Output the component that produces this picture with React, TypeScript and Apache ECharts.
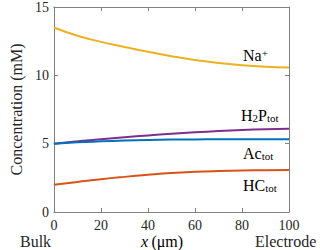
import React, { useEffect, useRef } from "react";
import * as echarts from "echarts";

const xPos = [0, 10, 20, 30, 40, 50, 60, 70, 80, 90, 100];
const naVals = [13.5, 12.9, 12.45, 12.08, 11.72, 11.4, 11.12, 10.9, 10.74, 10.63, 10.57];
const h2pVals = [5.0, 5.17, 5.33, 5.47, 5.6, 5.72, 5.83, 5.92, 6.0, 6.06, 6.1];
const acVals = [5.0, 5.1, 5.17, 5.23, 5.27, 5.3, 5.31, 5.32, 5.32, 5.32, 5.32];
const hcVals = [2.0, 2.2, 2.4, 2.57, 2.72, 2.85, 2.94, 3.0, 3.04, 3.06, 3.07];
const xTicks = [0, 20, 40, 60, 80, 100];
const yTicks = [0, 5, 10, 15];

const C_NA = "#EDB120";
const C_H2P = "#7E2F8E";
const C_AC = "#0072BD";
const C_HC = "#D95319";
const FONT = "'Liberation Serif', 'DejaVu Serif', serif";
const AXIS = "#808080";
const TXT = "#262626";

const pairs = (vals: number[]) => xPos.map((x, i) => [x, vals[i]]);

export default function App() {
  const ref = useRef<HTMLDivElement>(null);
  useEffect(() => {
    if (!ref.current) return;
    const chart = echarts.init(ref.current, null, { renderer: "svg" });
    const lineSeries = (name: string, vals: number[], color: string) => ({
      type: "line",
      name,
      data: pairs(vals),
      smooth: true,
      showSymbol: false,
      lineStyle: { color, width: 2 },
      itemStyle: { color },
    });
    const tick = { show: true, inside: true, length: 4, lineStyle: { color: AXIS, width: 1 } };
    const line = { show: true, onZero: false, lineStyle: { color: AXIS, width: 1 } };
    const mirror = {
      axisLine: line,
      axisTick: tick,
      axisLabel: { show: false },
      splitLine: { show: false },
    };
    const sub = { fontFamily: FONT, fontSize: 11, verticalAlign: "bottom", lineHeight: 11 };
    chart.setOption({
      animation: false,
      textStyle: { fontFamily: FONT },
      grid: { left: 38, right: 31, top: 7, bottom: 38 },
      xAxis: [
        {
          type: "value",
          min: 0,
          max: 100,
          interval: 20,
          axisLine: line,
          axisTick: tick,
          axisLabel: {
            color: TXT,
            fontFamily: FONT,
            fontSize: 14,
            margin: 6,
            formatter: (v: number) => (xTicks.includes(v) ? String(v) : ""),
          },
          splitLine: { show: false },
        },
        { type: "value", position: "top", min: 0, max: 100, interval: 20, ...mirror },
      ],
      yAxis: [
        {
          type: "value",
          min: 0,
          max: 15,
          interval: 5,
          name: "Concentration (mM)",
          nameLocation: "middle",
          nameGap: 19,
          nameTextStyle: { color: TXT, fontFamily: FONT, fontSize: 16 },
          axisLine: line,
          axisTick: tick,
          axisLabel: {
            color: TXT,
            fontFamily: FONT,
            fontSize: 14,
            margin: 5,
            formatter: (v: number) => (yTicks.includes(v) ? String(v) : ""),
          },
          splitLine: { show: false },
        },
        { type: "value", position: "right", min: 0, max: 15, interval: 5, ...mirror },
      ],
      series: [
        lineSeries("Na", naVals, C_NA),
        lineSeries("H2P", h2pVals, C_H2P),
        lineSeries("Ac", acVals, C_AC),
        lineSeries("HC", hcVals, C_HC),
      ],
      graphic: [
        {
          type: "text",
          left: 243,
          top: 47,
          style: {
            text: "{m|Na}{sup|+}",
            rich: {
              m: { fontFamily: FONT, fontSize: 16, color: C_NA },
              sup: { fontFamily: FONT, fontSize: 11, color: C_NA, verticalAlign: "top" },
            },
          },
        },
        {
          type: "text",
          left: 241,
          top: 107,
          style: {
            text: "{m|H}{s|2}{m|P}{s|tot}",
            rich: {
              m: { fontFamily: FONT, fontSize: 16, color: C_H2P },
              s: { ...sub, color: C_H2P },
            },
          },
        },
        {
          type: "text",
          left: 243,
          top: 145,
          style: {
            text: "{m|Ac}{s|tot}",
            rich: {
              m: { fontFamily: FONT, fontSize: 16, color: C_AC },
              s: { ...sub, color: C_AC },
            },
          },
        },
        {
          type: "text",
          left: 243,
          top: 177,
          style: {
            text: "{m|HC}{s|tot}",
            rich: {
              m: { fontFamily: FONT, fontSize: 16, color: C_HC },
              s: { ...sub, color: C_HC },
            },
          },
        },
        {
          type: "text",
          left: 20,
          top: 233,
          style: { text: "Bulk", fontFamily: FONT, fontSize: 16, fill: TXT },
        },
        {
          type: "text",
          left: 255,
          top: 233,
          style: { text: "Electrode", fontFamily: FONT, fontSize: 16, fill: TXT },
        },
        {
          type: "text",
          left: 141,
          top: 233,
          style: {
            text: "{i|x} {n|(μm)}",
            rich: {
              i: { fontFamily: FONT, fontSize: 16, fontStyle: "italic", color: TXT },
              n: { fontFamily: FONT, fontSize: 16, color: TXT },
            },
          },
        },
      ],
    });
    return () => chart.dispose();
  }, []);
  return <div ref={ref} style={{ width: 320, height: 250, position: "absolute", left: 0, top: 0 }} />;
}
